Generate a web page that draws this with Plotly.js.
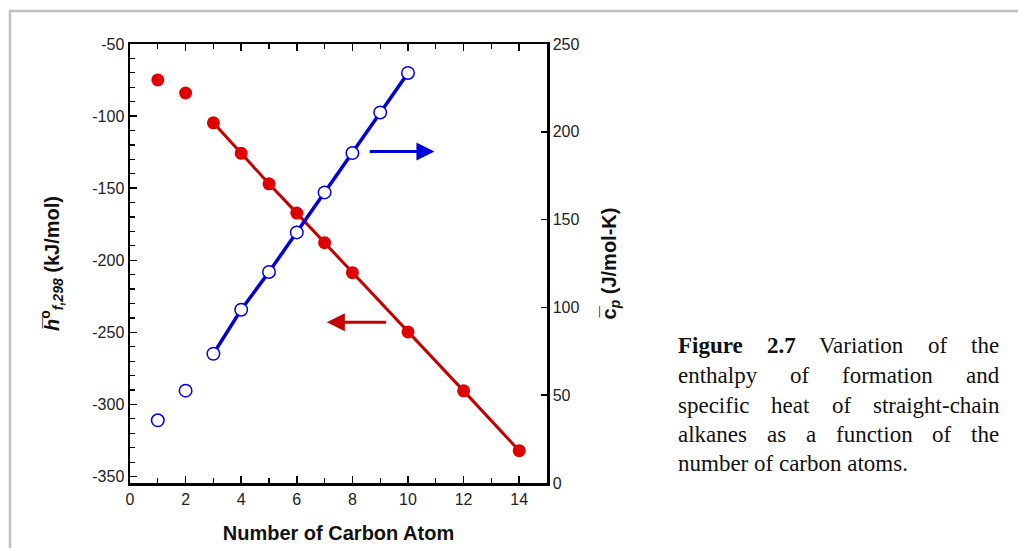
<!DOCTYPE html>
<html>
<head>
<meta charset="utf-8">
<script src="https://cdn.plot.ly/plotly-3.0.1.min.js"></script>
<style>html,body{margin:0;padding:0;background:#fff;}#chart{width:1018px;height:548px;}</style>
</head>
<body>
<div id="chart"></div>
<script>
// ---- data ----
const carbonH  = [1, 2, 3, 4, 5, 6, 7, 8, 10, 12, 14];
const enthalpy = [-74.9, -84.0, -104.7, -125.8, -147.0, -167.3, -187.8, -208.6, -249.7, -290.6, -332.1];
const carbonCp = [1, 2, 3, 4, 5, 6, 7, 8, 9, 10];
const cp       = [35.7, 52.6, 73.6, 98.7, 120.2, 142.7, 165.5, 187.9, 211.0, 233.5];
const lineStart = 2; // fitted lines begin at C3

const leftTicks = [-350, -300, -250, -200, -150, -100, -50];
const xTitle  = 'Number of Carbon Atom';
const yTitle  = '<i>h&#773;</i><sup>o</sup><sub><i>f,298</i></sub> (kJ/mol)';
const y2Title = 'c&#773;<sub><i>p</i></sub> (J/mol-K)';

const captionLines = [
  [['Figure', true], ['2.7', true], ['Variation', false], ['of', false], ['the', false]],
  [['enthalpy', false], ['of', false], ['formation', false], ['and', false]],
  [['specific', false], ['heat', false], ['of', false], ['straight-chain', false]],
  [['alkanes', false], ['as', false], ['a', false], ['function', false], ['of', false], ['the', false]],
  [['number of carbon atoms.', false]]
];

// ---- geometry ----
const W = 1018, H = 548;
const M = {l: 130, r: 471, t: 44, b: 65};
const PW = W - M.l - M.r, PH = H - M.t - M.b;
const px2x = p => (p - M.l) / PW;
const py2y = p => (H - M.b - p) / PH;

const RED = '#e00000', RED_LINE = '#c40000', BLUE = '#0000dd';
const sansFont = 'Liberation Sans, Arial, sans-serif';
const serifFam = 'Liberation Serif';

const traces = [
  {x: carbonH.slice(lineStart), y: enthalpy.slice(lineStart), mode: 'lines', yaxis: 'y',
   line: {color: RED_LINE, width: 3}, hoverinfo: 'skip', showlegend: false},
  {x: carbonH, y: enthalpy, mode: 'markers', yaxis: 'y',
   marker: {color: RED, size: 13, line: {width: 0}}, showlegend: false},
  {x: carbonCp.slice(lineStart), y: cp.slice(lineStart), mode: 'lines', yaxis: 'y2',
   line: {color: BLUE, width: 3.5}, hoverinfo: 'skip', showlegend: false},
  {x: carbonCp, y: cp, mode: 'markers', yaxis: 'y2',
   marker: {color: '#ffffff', size: 12.5, line: {color: BLUE, width: 1.5}}, showlegend: false}
];

// ---- caption: justified words measured with canvas ----
const cvs = document.createElement('canvas').getContext('2d');
const capSize = 23, capLeft = 677, capRight = 998;
const capY = [345, 375, 405, 434, 463];
const annotations = [];
captionLines.forEach((words, li) => {
  const widths = words.map(([w, b]) => {
    cvs.font = (b ? 'bold ' : '') + capSize + 'px "' + serifFam + '"';
    return cvs.measureText(w).width;
  });
  const total = widths.reduce((a, c) => a + c, 0);
  const gap = words.length > 1 && li < captionLines.length - 1 ? (capRight - capLeft - total) / (words.length - 1) : 0;
  let xpos = capLeft;
  words.forEach(([w, b], i) => {
    annotations.push({xref: 'paper', yref: 'paper', x: px2x(xpos), y: py2y(capY[li]),
      xanchor: 'left', yanchor: 'middle', showarrow: false, borderpad: 0,
      text: b ? '<b>' + w + '</b>' : w,
      font: {family: serifFam, size: capSize, color: '#111'}});
    xpos += widths[i] + gap;
  });
});

// direction arrows
annotations.push({x: 10.95, y: 188.8, xref: 'x', yref: 'y2', ax: 8.57, ay: 188.8, axref: 'x', ayref: 'y2',
  text: '', showarrow: true, arrowhead: 2, arrowsize: 1.2, arrowwidth: 3, arrowcolor: BLUE});
annotations.push({x: 7.08, y: -243.0, xref: 'x', yref: 'y', ax: 9.27, ay: -243.0, axref: 'x', ayref: 'y',
  text: '', showarrow: true, arrowhead: 2, arrowsize: 1.2, arrowwidth: 3, arrowcolor: RED_LINE});

const tickFont = {family: sansFont, size: 16, color: '#222'};
const titleFont = {family: sansFont, size: 20, color: '#111', weight: 'bold'};

const layout = {
  width: W, height: H, margin: M, paper_bgcolor: '#fff', plot_bgcolor: '#fff',
  showlegend: false,
  xaxis: {range: [0, 15], tick0: 0, dtick: 2, ticks: 'inside', ticklen: 7, tickwidth: 1.5, tickcolor: '#000',
    minor: {dtick: 1, ticks: 'inside', ticklen: 5, tickwidth: 1.2, tickcolor: '#000'},
    showline: true, linewidth: 2.5, linecolor: '#000', mirror: 'ticks', showgrid: false, zeroline: false,
    tickfont: tickFont, title: {text: xTitle, font: titleFont, standoff: 20}},
  yaxis: {range: [-354.5, -50], tickmode: 'array', tickvals: leftTicks, ticktext: leftTicks.map(String),
    ticks: 'inside', ticklen: 7, tickwidth: 1.5, tickcolor: '#000',
    minor: {tick0: -350, dtick: 10, ticks: 'inside', ticklen: 5, tickwidth: 1.2, tickcolor: '#000'},
    showline: true, linewidth: 2.5, linecolor: '#000', showgrid: false, zeroline: false,
    tickfont: tickFont, title: {text: yTitle, font: titleFont, standoff: 28}},
  yaxis2: {range: [0, 250], dtick: 50, overlaying: 'y', side: 'right', ticks: 'inside', ticklen: 6, tickwidth: 1.5, tickcolor: '#000',
    showline: true, linewidth: 2.5, linecolor: '#000', showgrid: false, zeroline: false,
    tickfont: tickFont, title: {text: y2Title, font: titleFont, standoff: 24}},
  annotations: annotations,
  shapes: [
    {type: 'line', xref: 'paper', yref: 'paper', x0: px2x(9), x1: px2x(1020), y0: py2y(11), y1: py2y(11), line: {color: '#c0c0c0', width: 2.5}},
    {type: 'line', xref: 'paper', yref: 'paper', x0: px2x(10), x1: px2x(10), y0: py2y(10), y1: py2y(550), line: {color: '#c0c0c0', width: 2.5}}
  ]
};

Plotly.newPlot('chart', traces, layout, {staticPlot: true, displayModeBar: false});
</script>
</body>
</html>
